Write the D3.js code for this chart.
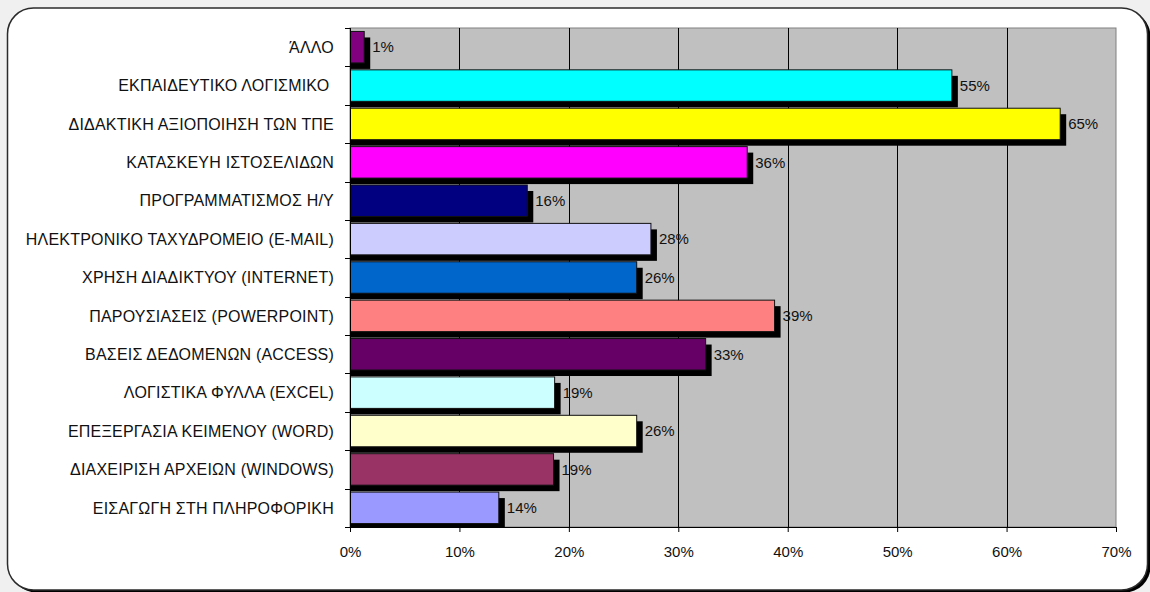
<!DOCTYPE html>
<html>
<head>
<meta charset="utf-8">
<script src="https://cdn.jsdelivr.net/npm/d3@7"></script>
<style>
  html, body { margin: 0; padding: 0; background: #f0f0f0; }
  svg { display: block; font-family: Arial, "Liberation Sans", sans-serif; }
</style>
</head>
<body>
<svg id="chart" width="1150" height="592"></svg>
<script>
// categories top to bottom, as in the picture
const categories = [
  'ΆΛΛΟ',
  'ΕΚΠΑΙΔΕΥΤΙΚΟ ΛΟΓΙΣΜΙΚΟ ',
  'ΔΙΔΑΚΤΙΚΗ ΑΞΙΟΠΟΙΗΣΗ ΤΩΝ ΤΠΕ',
  'ΚΑΤΑΣΚΕΥΗ ΙΣΤΟΣΕΛΙΔΩΝ',
  'ΠΡΟΓΡΑΜΜΑΤΙΣΜΟΣ Η/Υ',
  'ΗΛΕΚΤΡΟΝΙΚΟ ΤΑΧΥΔΡΟΜΕΙΟ (E-MAIL)',
  'ΧΡΗΣΗ ΔΙΑΔΙΚΤΥΟΥ (INTERNET)',
  'ΠΑΡΟΥΣΙΑΣΕΙΣ (POWERPOINT)',
  'ΒΑΣΕΙΣ ΔΕΔΟΜΕΝΩΝ (ACCESS)',
  'ΛΟΓΙΣΤΙΚΑ ΦΥΛΛΑ (EXCEL)',
  'ΕΠΕΞΕΡΓΑΣΙΑ ΚΕΙΜΕΝΟΥ (WORD)',
  'ΔΙΑΧΕΙΡΙΣΗ ΑΡΧΕΙΩΝ (WINDOWS)',
  'ΕΙΣΑΓΩΓΗ ΣΤΗ ΠΛΗΡΟΦΟΡΙΚΗ'
];
// percent
const values = [1.3, 55.0, 64.9, 36.3, 16.2, 27.5, 26.2, 38.8, 32.5, 18.7, 26.2, 18.6, 13.6];
const barColors = [
  '#800080', '#00ffff', '#ffff00', '#ff00ff', '#000080', '#ccccff', '#0066cc',
  '#ff8080', '#660066', '#ccffff', '#ffffcc', '#993366', '#9999ff'
];
const xTicks = [0, 10, 20, 30, 40, 50, 60, 70];

const svg = d3.select('#chart');
const margin = { top: 28, right: 34, bottom: 65, left: 350 };
const width = 1150, height = 592;
const innerW = width - margin.left - margin.right;
const innerH = height - margin.top - margin.bottom;

// outer frame with its shadow
svg.append('rect')
  .attr('x', 10.5).attr('y', 10.5).attr('width', 1140).attr('height', 582)
  .attr('rx', 26).attr('fill', '#000');
svg.append('rect')
  .attr('x', 7.5).attr('y', 8).attr('width', 1140).attr('height', 582)
  .attr('rx', 26).attr('fill', '#fff').attr('stroke', '#2b2b2b').attr('stroke-width', 1.5);

const g = svg.append('g').attr('transform', 'translate(' + margin.left + ',' + margin.top + ')');

const x = d3.scaleLinear().domain([0, 70]).range([0, innerW]);
const y = d3.scaleBand().domain(categories).range([0, innerH]).paddingInner(0.18).paddingOuter(0.09);

g.append('rect')
  .attr('width', innerW).attr('height', innerH)
  .attr('fill', '#c0c0c0').attr('stroke', '#808080').attr('stroke-width', 1);

g.append('g').selectAll('line')
  .data(xTicks.slice(1, -1))
  .join('line')
  .attr('x1', d => Math.round(x(d)) + 0.5).attr('x2', d => Math.round(x(d)) + 0.5)
  .attr('y1', 0).attr('y2', innerH)
  .attr('stroke', '#000').attr('stroke-width', 1);

const clip = g.append('clipPath').attr('id', 'plot-clip');
clip.append('rect').attr('width', innerW).attr('height', innerH);

const rows = categories.map((c, i) => ({ cat: c, v: values[i], color: barColors[i] }));
const shadowOff = 6;

const bars = g.append('g').attr('clip-path', 'url(#plot-clip)');
bars.selectAll('rect.shadow')
  .data(rows)
  .join('rect')
  .attr('class', 'shadow')
  .attr('x', 0)
  .attr('y', d => y(d.cat) + shadowOff)
  .attr('width', d => x(d.v) + shadowOff)
  .attr('height', y.bandwidth())
  .attr('fill', '#000');
bars.selectAll('rect.bar')
  .data(rows)
  .join('rect')
  .attr('class', 'bar')
  .attr('x', 0)
  .attr('y', d => y(d.cat))
  .attr('width', d => x(d.v))
  .attr('height', y.bandwidth())
  .attr('fill', d => d.color)
  .attr('stroke', '#111').attr('stroke-width', 1);

g.append('g').selectAll('text')
  .data(rows)
  .join('text')
  .attr('x', d => x(d.v) + shadowOff + 2)
  .attr('y', d => y(d.cat) + y.bandwidth() / 2)
  .attr('dy', '0.35em')
  .attr('font-size', 15)
  .attr('fill', '#111')
  .text(d => Math.round(d.v) + '%');

// y axis: ticks on band boundaries
const yAxis = g.append('g');
yAxis.append('line').attr('x1', 0.5).attr('x2', 0.5).attr('y1', 0).attr('y2', innerH + 5).attr('stroke', '#000');
const step = y.step();
yAxis.selectAll('line.tick')
  .data(d3.range(categories.length + 1))
  .join('line')
  .attr('class', 'tick')
  .attr('x1', -5).attr('x2', 0)
  .attr('y1', i => Math.round(i * step) + 0.5).attr('y2', i => Math.round(i * step) + 0.5)
  .attr('stroke', '#000');
yAxis.selectAll('text')
  .data(categories)
  .join('text')
  .attr('x', -16)
  .attr('y', d => y(d) + y.bandwidth() / 2)
  .attr('dy', '0.36em')
  .attr('text-anchor', 'end')
  .attr('font-size', 16)
  .attr('letter-spacing', '0.2px')
  .attr('fill', '#111')
  .style('white-space', 'pre')
  .text(d => d);

// x axis
const xAxis = g.append('g').attr('transform', 'translate(0,' + innerH + ')')
  .call(d3.axisBottom(x).tickValues(xTicks).tickSize(5).tickFormat(d => d + '%'));
xAxis.select('.domain').attr('stroke', '#000');
xAxis.selectAll('.tick line').attr('stroke', '#000');
xAxis.selectAll('.tick text')
  .attr('font-size', 15).attr('font-family', 'Arial, "Liberation Sans", sans-serif')
  .attr('fill', '#111').attr('y', 19);
</script>
</body>
</html>
